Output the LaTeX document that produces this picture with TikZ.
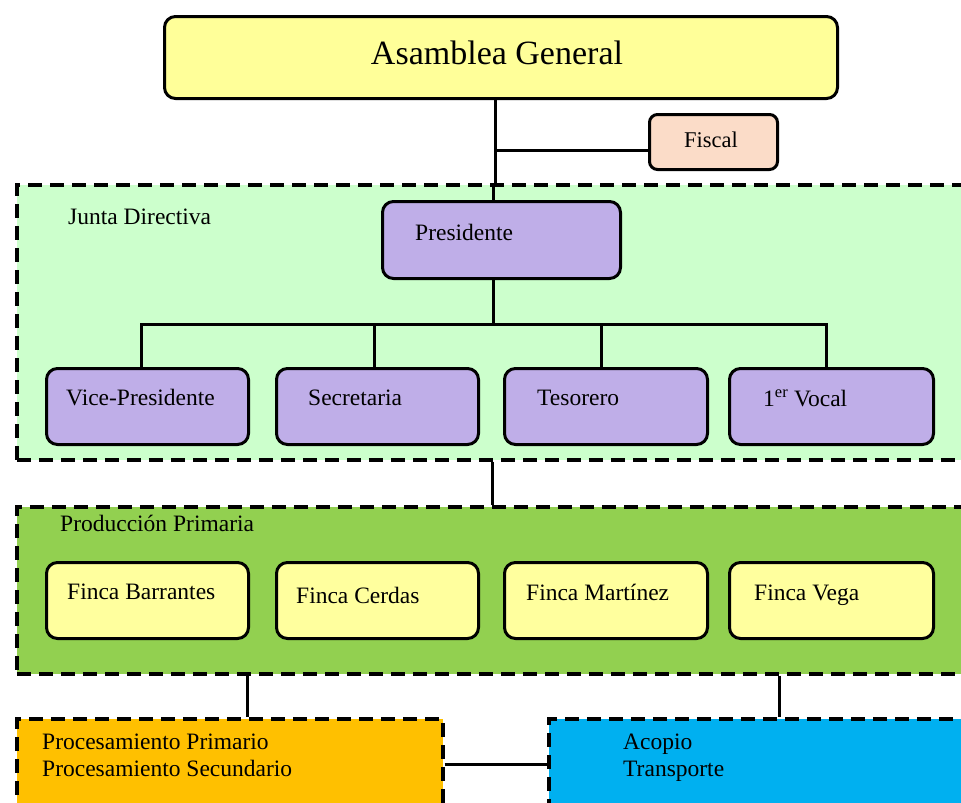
\documentclass[tikz,border=0pt]{standalone}
\usepackage{fontspec}
\setmainfont{Liberation Serif}
\definecolor{cyellow}{HTML}{FFFF99}
\definecolor{cpeach}{HTML}{FBDCC8}
\definecolor{cjunta}{HTML}{CCFFCC}
\definecolor{cpurple}{HTML}{BFAEE8}
\definecolor{cprod}{HTML}{92D050}
\definecolor{cfinca}{HTML}{FFFF9E}
\definecolor{corange}{HTML}{FFC000}
\definecolor{cblue}{HTML}{00B0F0}
\tikzset{
  box/.style={draw=black, line width=3pt, rounded corners=11pt, anchor=north west, inner sep=0pt},
  group/.style={draw=black, line width=3.5pt, dash pattern=on 14pt off 8pt, anchor=north west, inner sep=0pt, rectangle},
  conn/.style={draw=black, line width=3pt},
  lbl/.style={anchor=west, inner sep=0pt, font=\fontsize{23.5}{27}\selectfont},
}
\begin{document}
\begin{tikzpicture}[x=1pt,y=-1pt]
\useasboundingbox (0,0) rectangle (961,803);
\clip (0,0) rectangle (961,803);
\fill[white] (0,0) rectangle (961,803);

% groups
\node[group, fill=cjunta, minimum width=975pt, minimum height=275pt] (junta) at (15,183) {};
\node[group, fill=cprod, minimum width=975pt, minimum height=167pt] (prod) at (15,505) {};
\node[group, fill=corange, minimum width=426pt, minimum height=120pt] (proc) at (15,717) {};
\node[group, fill=cblue, minimum width=450pt, minimum height=120pt] (acop) at (547,717) {};

% top boxes
\node[box, fill=cyellow, minimum width=673pt, minimum height=82pt] (asamblea) at (163,15) {};
\node[box, fill=cpeach, rounded corners=8pt, minimum width=128pt, minimum height=55pt] (fiscal) at (648,113) {};
\node[box, fill=cpurple, minimum width=238pt, minimum height=77pt] (presidente) at (381,200) {};

% junta members
\node[box, fill=cpurple, minimum width=202pt, minimum height=76pt] (vice) at (45,367) {};
\node[box, fill=cpurple, minimum width=202pt, minimum height=76pt] (secre) at (275,367) {};
\node[box, fill=cpurple, minimum width=203pt, minimum height=76pt] (teso) at (503,367) {};
\node[box, fill=cpurple, minimum width=204pt, minimum height=76pt] (vocal) at (728,367) {};

% fincas
\node[box, fill=cfinca, minimum width=202pt, minimum height=76pt] (f1) at (45,561) {};
\node[box, fill=cfinca, minimum width=202pt, minimum height=76pt] (f2) at (275,561) {};
\node[box, fill=cfinca, minimum width=203pt, minimum height=76pt] (f3) at (503,561) {};
\node[box, fill=cfinca, minimum width=204pt, minimum height=76pt] (f4) at (728,561) {};

% texts
\node[anchor=center, inner sep=0pt, font=\fontsize{34}{38}\selectfont] (tasam) at (497,53) {Asamblea General};
\node[anchor=center, inner sep=0pt, font=\fontsize{22.5}{26}\selectfont] (tfis) at (711,140) {Fiscal};
\node[lbl] (tjunta) at (68,217) {Junta Directiva};
\node[lbl] (tpres) at (415,232) {Presidente};
\node[lbl] (tvice) at (66,398) {Vice-Presidente};
\node[lbl] (tsec) at (308,398) {Secretaria};
\node[lbl] (tteso) at (537,398) {Tesorero};
\node[lbl] (tvocal) at (763,398) {1\textsuperscript{er} Vocal};
\node[lbl] (tprod) at (60,523) {Producción Primaria};
\node[lbl] (tf1) at (67,592) {Finca Barrantes};
\node[lbl] (tf2) at (296,595) {Finca Cerdas};
\node[lbl] (tf3) at (526,592) {Finca Martínez};
\node[lbl] (tf4) at (754,595) {Finca Vega};
\node[lbl, anchor=north west, align=left, font=\fontsize{23.5}{26.5}\selectfont] (tproc) at (42,734) {Procesamiento Primario\\Procesamiento Secundario};
\node[lbl, anchor=north west, align=left, font=\fontsize{23.5}{26.5}\selectfont] (tacop) at (623,734) {Acopio\\Transporte};

% connectors
\coordinate (j1) at (495,150);
\coordinate (bus) at (493,324);
\draw[conn] (asamblea.south -| j1) -- (junta.north -| j1);
\draw[conn] (junta.north -| bus) -- (presidente.north -| bus);
\draw[conn] (j1) -- (fiscal.west |- j1);
\draw[conn] (presidente.south -| bus) -- (bus);
\draw[conn] (vice.north -| 141,0) -- (141,324) -- (826,324) -- (vocal.north -| 826,0);
\draw[conn] (secre.north -| 374,0) -- (374,324);
\draw[conn] (teso.north -| 601,0) -- (601,324);
\draw[conn] (junta.south -| 492,0) -- (prod.north -| 492,0);
\draw[conn] (prod.south -| 247,0) -- (proc.north -| 247,0);
\draw[conn] (prod.south -| 779,0) -- (acop.north -| 779,0);
\draw[conn] (proc.east |- 0,764) -- (acop.west |- 0,764);
\end{tikzpicture}
\end{document}
